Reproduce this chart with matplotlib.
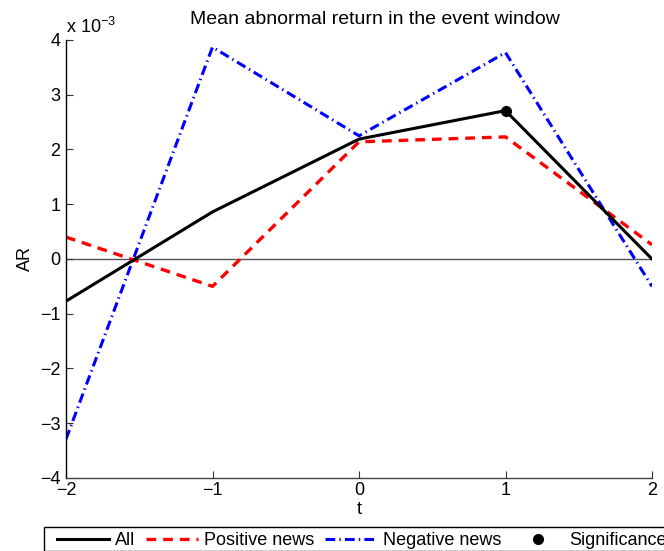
import matplotlib
matplotlib.use("Agg")
import matplotlib.pyplot as plt
from matplotlib.lines import Line2D
from matplotlib.patches import Rectangle

plt.rcParams['font.family'] = ['Liberation Sans', 'DejaVu Sans']
plt.rcParams['mathtext.fontset'] = 'custom'
plt.rcParams['mathtext.rm'] = 'Liberation Sans'
plt.rcParams['mathtext.it'] = 'Liberation Sans'
plt.rcParams['lines.scale_dashes'] = False

# Event window and mean abnormal returns (units of 1e-3)
t = [-2, -1, 0, 1, 2]
ar_all = [-0.77, 0.86, 2.19, 2.71, 0.0]
ar_positive = [0.40, -0.50, 2.14, 2.23, 0.26]
ar_negative = [-3.29, 3.87, 2.25, 3.77, -0.50]
sig_t = [1]
sig_ar = [2.71]

xticks = [-2, -1, 0, 1, 2]
yticks = [-4, -3, -2, -1, 0, 1, 2, 3, 4]

FS = 13
W, H = 664, 551

fig = plt.figure(figsize=(W / 100, H / 100), dpi=100)
ax = fig.add_axes([66/W, 1 - 478/H, (652 - 66)/W, (478 - 40)/H])

ax.axhline(0, color='#555555', lw=1.0, zorder=1)
ax.plot(t, ar_all, color='black', lw=2.2, zorder=3, solid_joinstyle='round')
ax.plot(t, ar_positive, color='#ff0000', lw=2.4, dashes=(7, 5), zorder=2)
ax.plot(t, ar_negative, color='#0000ff', lw=2.2, dashes=(7, 3, 1, 3), zorder=2)
ax.plot(sig_t, sig_ar, 'o', color='black', ms=7, zorder=4)

ax.set_xlim(-2, 2)
ax.set_ylim(-4, 4)
ax.set_xticks(xticks)
ax.set_yticks(yticks)
ax.set_xticklabels([f"{v}".replace('-', '\u2212') for v in xticks])
ax.set_yticklabels([f"{v}".replace('-', '\u2212') for v in yticks])
ax.tick_params(direction='in', length=5, width=0.8, labelsize=FS,
               colors='#333333', labelcolor='black')
ax.tick_params(axis='y', pad=4)
ax.tick_params(axis='x', pad=3)

for side in ('top', 'right'):
    ax.spines[side].set_visible(False)
ax.spines['left'].set_color('black')
ax.spines['bottom'].set_color('#444444')
ax.spines['left'].set_linewidth(1.0)
ax.spines['bottom'].set_linewidth(1.0)

ax.set_xlabel('t', fontsize=FS, labelpad=1)
ax.set_ylabel('AR', fontsize=FS, labelpad=4)
fig.text(375/W, 1 - 19/H, 'Mean abnormal return in the event window',
         ha='center', va='center', fontsize=14)
fig.text(66/W, 1 - 27/H, r'x 10$^{-3}$', ha='left', va='center', fontsize=FS)

# Legend box: a plain frame running past the right edge, entries placed inside
fig.patches.append(Rectangle((44/W, 0), 1.0, 1 - 527/H, transform=fig.transFigure,
                             facecolor='white', edgecolor='black', lw=1.0, zorder=5))

handles = [
    Line2D([], [], color='black', lw=2.2),
    Line2D([], [], color='#ff0000', lw=2.4, dashes=(7, 5)),
    Line2D([], [], color='#0000ff', lw=2.2, dashes=(7, 3, 1, 3)),
    Line2D([], [], color='black', marker='o', ms=7, ls='none'),
]
labels = ['All', 'Positive news', 'Negative news', 'Significance']
leg = fig.legend(handles, labels, loc='upper left',
                 bbox_to_anchor=(52/W, 1 - 527/H), ncol=4,
                 fontsize=FS, frameon=False, handlelength=2.85, handletextpad=0.33,
                 columnspacing=0.62, borderpad=0.3, borderaxespad=0)
leg.set_zorder(6)

fig.savefig('out.png', dpi=100)
